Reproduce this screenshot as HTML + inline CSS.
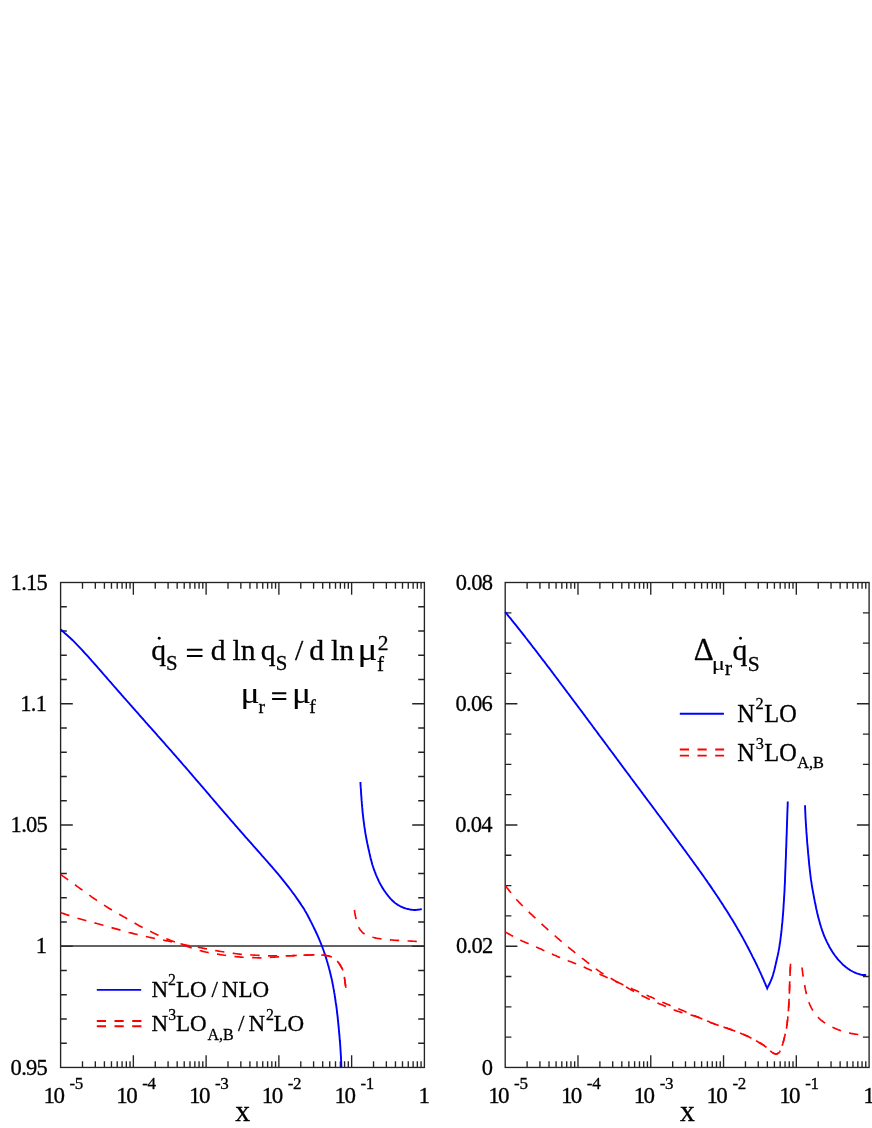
<!DOCTYPE html>
<html><head><meta charset="utf-8"><title>chart</title>
<style>html,body{margin:0;padding:0;background:#fff}body{width:872px;height:1128px;overflow:hidden;font-family:"Liberation Serif",serif}text{stroke:#000;stroke-width:0.3px;stroke-linejoin:round}</style></head>
<body>
<svg width="872" height="1128" viewBox="0 0 872 1128" font-family='"Liberation Serif", serif' fill="#000"  style="display:block;will-change:transform">
<rect width="872" height="1128" fill="#fff"/>
<path d="M82.50 1067.45V1061.25M82.50 582.50V588.70M95.32 1067.45V1061.25M95.32 582.50V588.70M104.41 1067.45V1061.25M104.41 582.50V588.70M111.46 1067.45V1061.25M111.46 582.50V588.70M117.22 1067.45V1061.25M117.22 582.50V588.70M122.09 1067.45V1061.25M122.09 582.50V588.70M126.31 1067.45V1061.25M126.31 582.50V588.70M130.03 1067.45V1061.25M130.03 582.50V588.70M133.36 1067.45V1055.25M133.36 582.50V594.70M155.26 1067.45V1061.25M155.26 582.50V588.70M168.08 1067.45V1061.25M168.08 582.50V588.70M177.17 1067.45V1061.25M177.17 582.50V588.70M184.22 1067.45V1061.25M184.22 582.50V588.70M189.98 1067.45V1061.25M189.98 582.50V588.70M194.85 1067.45V1061.25M194.85 582.50V588.70M199.07 1067.45V1061.25M199.07 582.50V588.70M202.79 1067.45V1061.25M202.79 582.50V588.70M206.12 1067.45V1055.25M206.12 582.50V594.70M228.02 1067.45V1061.25M228.02 582.50V588.70M240.84 1067.45V1061.25M240.84 582.50V588.70M249.93 1067.45V1061.25M249.93 582.50V588.70M256.98 1067.45V1061.25M256.98 582.50V588.70M262.74 1067.45V1061.25M262.74 582.50V588.70M267.61 1067.45V1061.25M267.61 582.50V588.70M271.83 1067.45V1061.25M271.83 582.50V588.70M275.55 1067.45V1061.25M275.55 582.50V588.70M278.88 1067.45V1055.25M278.88 582.50V594.70M300.78 1067.45V1061.25M300.78 582.50V588.70M313.60 1067.45V1061.25M313.60 582.50V588.70M322.69 1067.45V1061.25M322.69 582.50V588.70M329.74 1067.45V1061.25M329.74 582.50V588.70M335.50 1067.45V1061.25M335.50 582.50V588.70M340.37 1067.45V1061.25M340.37 582.50V588.70M344.59 1067.45V1061.25M344.59 582.50V588.70M348.31 1067.45V1061.25M348.31 582.50V588.70M351.64 1067.45V1055.25M351.64 582.50V594.70M373.54 1067.45V1061.25M373.54 582.50V588.70M386.36 1067.45V1061.25M386.36 582.50V588.70M395.45 1067.45V1061.25M395.45 582.50V588.70M402.50 1067.45V1061.25M402.50 582.50V588.70M408.26 1067.45V1061.25M408.26 582.50V588.70M413.13 1067.45V1061.25M413.13 582.50V588.70M417.35 1067.45V1061.25M417.35 582.50V588.70M421.07 1067.45V1061.25M421.07 582.50V588.70M60.60 703.74H72.80M424.40 703.74H412.20M60.60 824.98H72.80M424.40 824.98H412.20M60.60 946.21H72.80M424.40 946.21H412.20M60.60 606.75H66.80M424.40 606.75H418.20M60.60 631.00H66.80M424.40 631.00H418.20M60.60 655.24H66.80M424.40 655.24H418.20M60.60 679.49H66.80M424.40 679.49H418.20M60.60 727.99H66.80M424.40 727.99H418.20M60.60 752.23H66.80M424.40 752.23H418.20M60.60 776.48H66.80M424.40 776.48H418.20M60.60 800.73H66.80M424.40 800.73H418.20M60.60 849.22H66.80M424.40 849.22H418.20M60.60 873.47H66.80M424.40 873.47H418.20M60.60 897.72H66.80M424.40 897.72H418.20M60.60 921.97H66.80M424.40 921.97H418.20M60.60 970.46H66.80M424.40 970.46H418.20M60.60 994.71H66.80M424.40 994.71H418.20M60.60 1018.96H66.80M424.40 1018.96H418.20M60.60 1043.20H66.80M424.40 1043.20H418.20" fill="none" stroke="#242424" stroke-width="1.35"/>
<rect x="60.60" y="582.50" width="363.80" height="484.95" fill="none" stroke="#242424" stroke-width="1.35"/>
<path d="M527.11 1067.45V1061.25M527.11 582.50V588.70M539.92 1067.45V1061.25M539.92 582.50V588.70M549.02 1067.45V1061.25M549.02 582.50V588.70M556.07 1067.45V1061.25M556.07 582.50V588.70M561.83 1067.45V1061.25M561.83 582.50V588.70M566.71 1067.45V1061.25M566.71 582.50V588.70M570.93 1067.45V1061.25M570.93 582.50V588.70M574.65 1067.45V1061.25M574.65 582.50V588.70M577.98 1067.45V1055.25M577.98 582.50V594.70M599.89 1067.45V1061.25M599.89 582.50V588.70M612.70 1067.45V1061.25M612.70 582.50V588.70M621.80 1067.45V1061.25M621.80 582.50V588.70M628.85 1067.45V1061.25M628.85 582.50V588.70M634.61 1067.45V1061.25M634.61 582.50V588.70M639.49 1067.45V1061.25M639.49 582.50V588.70M643.71 1067.45V1061.25M643.71 582.50V588.70M647.43 1067.45V1061.25M647.43 582.50V588.70M650.76 1067.45V1055.25M650.76 582.50V594.70M672.67 1067.45V1061.25M672.67 582.50V588.70M685.48 1067.45V1061.25M685.48 582.50V588.70M694.58 1067.45V1061.25M694.58 582.50V588.70M701.63 1067.45V1061.25M701.63 582.50V588.70M707.39 1067.45V1061.25M707.39 582.50V588.70M712.27 1067.45V1061.25M712.27 582.50V588.70M716.49 1067.45V1061.25M716.49 582.50V588.70M720.21 1067.45V1061.25M720.21 582.50V588.70M723.54 1067.45V1055.25M723.54 582.50V594.70M745.45 1067.45V1061.25M745.45 582.50V588.70M758.26 1067.45V1061.25M758.26 582.50V588.70M767.36 1067.45V1061.25M767.36 582.50V588.70M774.41 1067.45V1061.25M774.41 582.50V588.70M780.17 1067.45V1061.25M780.17 582.50V588.70M785.05 1067.45V1061.25M785.05 582.50V588.70M789.27 1067.45V1061.25M789.27 582.50V588.70M792.99 1067.45V1061.25M792.99 582.50V588.70M796.32 1067.45V1055.25M796.32 582.50V594.70M818.23 1067.45V1061.25M818.23 582.50V588.70M831.04 1067.45V1061.25M831.04 582.50V588.70M840.14 1067.45V1061.25M840.14 582.50V588.70M847.19 1067.45V1061.25M847.19 582.50V588.70M852.95 1067.45V1061.25M852.95 582.50V588.70M857.83 1067.45V1061.25M857.83 582.50V588.70M862.05 1067.45V1061.25M862.05 582.50V588.70M865.77 1067.45V1061.25M865.77 582.50V588.70M505.20 703.74H517.40M869.10 703.74H856.90M505.20 824.98H517.40M869.10 824.98H856.90M505.20 946.21H517.40M869.10 946.21H856.90M505.20 612.81H511.40M869.10 612.81H862.90M505.20 643.12H511.40M869.10 643.12H862.90M505.20 673.43H511.40M869.10 673.43H862.90M505.20 734.05H511.40M869.10 734.05H862.90M505.20 764.36H511.40M869.10 764.36H862.90M505.20 794.67H511.40M869.10 794.67H862.90M505.20 855.28H511.40M869.10 855.28H862.90M505.20 885.59H511.40M869.10 885.59H862.90M505.20 915.90H511.40M869.10 915.90H862.90M505.20 976.52H511.40M869.10 976.52H862.90M505.20 1006.83H511.40M869.10 1006.83H862.90M505.20 1037.14H511.40M869.10 1037.14H862.90" fill="none" stroke="#242424" stroke-width="1.35"/>
<rect x="505.20" y="582.50" width="363.90" height="484.95" fill="none" stroke="#242424" stroke-width="1.35"/>
<path d="M60.60 945.95H424.40" stroke="#303030" stroke-width="1.35" fill="none"/>
<defs><clipPath id="c1"><rect x="60.60" y="582.50" width="363.80" height="484.95"/></clipPath><clipPath id="c2"><rect x="505.20" y="582.50" width="363.90" height="484.95"/></clipPath></defs>
<path d="M60.6 629.4L61.3 630.0L62.2 630.8L63.3 631.8L64.5 632.9L65.8 634.0L67.2 635.2L68.6 636.5L70.0 637.8L71.3 639.0L72.6 640.2L73.8 641.4L75.0 642.6L76.2 643.8L77.4 645.1L78.6 646.3L79.8 647.6L81.0 648.9L82.2 650.2L83.4 651.5L84.6 652.8L85.8 654.1L87.0 655.4L88.2 656.7L89.4 658.1L90.6 659.4L91.8 660.8L93.0 662.1L94.2 663.5L95.4 664.8L96.6 666.2L97.8 667.6L99.0 668.9L100.2 670.3L101.4 671.7L102.6 673.1L103.8 674.5L105.0 675.9L106.2 677.2L107.4 678.6L108.6 680.0L109.8 681.4L111.0 682.7L112.2 684.1L113.4 685.5L114.6 686.9L115.8 688.2L117.0 689.6L118.2 691.0L119.4 692.3L120.6 693.7L121.8 695.1L123.0 696.4L124.2 697.8L125.4 699.1L126.6 700.5L127.8 701.9L129.0 703.2L130.2 704.6L131.4 705.9L132.6 707.3L133.8 708.7L135.0 710.0L136.2 711.4L137.4 712.7L138.6 714.1L139.8 715.5L141.0 716.8L142.2 718.2L143.4 719.5L144.6 720.9L145.8 722.3L147.0 723.6L148.2 725.0L149.4 726.3L150.6 727.6L151.8 729.0L153.0 730.3L154.2 731.7L155.4 733.0L156.6 734.4L157.8 735.8L159.0 737.1L160.2 738.5L161.4 739.8L162.6 741.2L163.8 742.5L165.0 743.9L166.2 745.3L167.4 746.6L168.6 748.0L169.8 749.4L171.0 750.7L172.2 752.1L173.4 753.5L174.6 754.8L175.8 756.2L177.0 757.6L178.2 758.9L179.4 760.3L180.6 761.7L181.8 763.1L183.0 764.5L184.2 765.9L185.4 767.2L186.6 768.6L187.8 770.0L189.0 771.4L190.2 772.8L191.4 774.2L192.6 775.6L193.8 777.0L195.0 778.4L196.2 779.8L197.4 781.2L198.6 782.5L199.8 783.9L201.0 785.3L202.2 786.7L203.4 788.1L204.6 789.5L205.8 790.9L207.0 792.3L208.2 793.7L209.4 795.1L210.6 796.6L211.8 798.0L213.0 799.4L214.2 800.8L215.4 802.2L216.6 803.6L217.8 805.0L219.0 806.4L220.2 807.8L221.4 809.2L222.6 810.6L223.8 812.0L225.0 813.3L226.2 814.7L227.4 816.1L228.6 817.5L229.8 818.9L231.0 820.3L232.2 821.7L233.4 823.0L234.6 824.4L235.8 825.8L237.0 827.2L238.2 828.6L239.4 829.9L240.6 831.3L241.8 832.7L243.0 834.0L244.2 835.4L245.4 836.8L246.6 838.1L247.8 839.5L249.0 840.8L250.2 842.2L251.4 843.5L252.6 844.9L253.8 846.3L255.0 847.6L256.2 849.0L257.4 850.3L258.6 851.7L259.8 853.0L261.0 854.4L262.2 855.8L263.4 857.1L264.6 858.5L265.8 859.9L267.0 861.2L268.2 862.6L269.4 864.0L270.6 865.3L271.8 866.7L273.0 868.1L274.2 869.5L275.4 870.9L276.6 872.3L277.8 873.7L279.0 875.2L280.2 876.6L281.4 878.1L282.6 879.6L283.8 881.1L285.0 882.6L286.2 884.1L287.4 885.6L288.6 887.1L289.8 888.7L291.0 890.3L292.2 892.0L293.5 893.7L294.7 895.3L295.9 897.0L297.0 898.6L298.1 900.1L299.1 901.6L300.0 902.9L300.8 904.1L301.5 905.2L302.2 906.2L302.8 907.1L303.4 908.0L303.9 908.8L304.4 909.6L304.8 910.4L305.3 911.3L305.8 912.1L306.3 912.9L306.7 913.7L307.2 914.5L307.6 915.3L308.0 916.0L308.3 916.8L308.7 917.5L309.1 918.3L309.6 919.1L310.0 920.0L310.5 920.9L311.0 921.9L311.5 922.8L312.0 923.8L312.5 924.9L313.0 925.9L313.5 926.9L314.0 928.0L314.5 929.0L315.0 930.0L315.5 931.0L315.9 932.0L316.4 933.0L316.9 934.0L317.3 935.0L317.8 936.0L318.2 937.0L318.6 938.0L319.1 939.0L319.5 940.0L319.9 941.0L320.3 942.0L320.7 943.0L321.1 944.0L321.5 945.0L321.9 946.0L322.3 947.0L322.7 948.0L323.0 949.0L323.4 950.0L323.8 951.0L324.1 952.0L324.4 952.9L324.8 953.9L325.1 954.9L325.4 955.9L325.7 956.9L326.0 957.9L326.4 958.9L326.7 960.0L327.0 961.1L327.4 962.3L327.7 963.4L328.0 964.6L328.4 965.8L328.7 967.0L329.0 968.3L329.4 969.5L329.7 970.8L330.0 972.0L330.3 973.3L330.6 974.5L330.9 975.8L331.2 977.0L331.5 978.3L331.8 979.6L332.1 980.9L332.4 982.3L332.6 983.6L332.9 985.0L333.2 986.4L333.4 987.9L333.7 989.4L334.0 990.9L334.2 992.4L334.5 993.9L334.7 995.4L334.9 997.0L335.2 998.5L335.4 1000.0L335.6 1001.5L335.8 1003.0L336.1 1004.5L336.3 1006.0L336.5 1007.5L336.7 1009.0L336.9 1010.5L337.0 1012.0L337.2 1013.5L337.4 1015.0L337.6 1016.5L337.7 1018.0L337.9 1019.5L338.0 1021.0L338.2 1022.5L338.3 1024.0L338.5 1025.5L338.6 1027.0L338.8 1028.5L338.9 1030.0L339.0 1031.5L339.2 1033.0L339.3 1034.5L339.5 1036.0L339.6 1037.5L339.7 1039.0L339.8 1040.5L340.0 1042.0L340.1 1043.5L340.2 1045.0L340.3 1046.5L340.4 1048.1L340.5 1049.7L340.6 1051.3L340.7 1052.9L340.8 1054.5L340.9 1056.0L341.0 1057.4L341.0 1058.8L341.1 1060.0L341.2 1061.1L341.2 1062.2L341.2 1063.2L341.3 1064.1L341.3 1064.9L341.3 1065.7L341.4 1066.4L341.4 1067.0L341.4 1067.6L341.4 1068.0" fill="none" stroke="#0000ff" stroke-width="1.90" stroke-linejoin="round" clip-path="url(#c1)"/>
<path d="M360.4 782.0L360.5 783.0L360.5 784.3L360.6 785.8L360.7 787.4L360.9 789.2L361.0 791.2L361.1 793.1L361.2 795.0L361.4 796.9L361.5 798.7L361.6 800.4L361.8 802.2L361.9 803.9L362.1 805.7L362.2 807.4L362.4 809.2L362.5 811.0L362.7 812.8L362.9 814.5L363.1 816.3L363.3 818.1L363.5 819.8L363.7 821.6L364.0 823.4L364.2 825.2L364.4 826.9L364.7 828.7L365.0 830.4L365.2 832.1L365.5 833.8L365.8 835.5L366.1 837.1L366.4 838.7L366.7 840.3L367.0 841.8L367.3 843.4L367.7 845.0L368.0 846.5L368.3 848.1L368.7 849.7L369.1 851.3L369.4 852.9L369.8 854.5L370.2 856.2L370.5 857.8L370.9 859.4L371.4 861.0L371.8 862.6L372.2 864.2L372.7 865.7L373.2 867.2L373.7 868.7L374.2 870.2L374.8 871.7L375.4 873.1L375.9 874.6L376.5 876.0L377.1 877.4L377.7 878.7L378.3 880.0L378.9 881.3L379.5 882.5L380.1 883.6L380.7 884.8L381.4 885.9L382.0 887.0L382.6 888.1L383.3 889.1L384.0 890.2L384.7 891.2L385.4 892.2L386.2 893.3L387.0 894.3L387.7 895.3L388.6 896.4L389.4 897.3L390.2 898.3L391.0 899.2L391.8 900.0L392.6 900.8L393.4 901.5L394.2 902.2L395.0 902.9L395.8 903.5L396.6 904.0L397.4 904.6L398.2 905.1L399.0 905.5L399.8 906.0L400.6 906.4L401.4 906.8L402.2 907.2L403.1 907.5L403.9 907.8L404.7 908.1L405.5 908.4L406.3 908.6L407.1 908.8L407.9 909.0L408.6 909.2L409.3 909.4L410.0 909.5L410.6 909.6L411.3 909.7L411.9 909.8L412.5 909.9L413.1 909.9L413.7 910.0L414.4 910.0L415.0 910.0L415.7 910.0L416.4 909.9L417.2 909.8L418.0 909.7L418.8 909.6L419.6 909.5L420.2 909.4L420.9 909.2L421.4 909.2L421.8 909.1" fill="none" stroke="#0000ff" stroke-width="1.90" stroke-linejoin="round"/>
<path d="M60.6 874.4L61.6 875.1L62.9 876.1L64.4 877.2L66.2 878.4L68.0 879.8L70.0 881.2L71.9 882.6L73.9 884.0L75.8 885.3L77.5 886.6L79.2 887.8L80.8 889.0L82.5 890.2L84.1 891.4L85.8 892.6L87.4 893.8L89.1 895.0L90.7 896.2L92.3 897.4L94.0 898.5L95.7 899.6L97.3 900.7L99.0 901.8L100.6 902.9L102.3 904.0L104.0 905.1L105.6 906.1L107.3 907.2L108.9 908.2L110.6 909.2L112.3 910.2L113.9 911.2L115.6 912.2L117.3 913.1L119.0 914.1L120.6 915.0L122.3 916.0L123.9 916.9L125.5 917.8L127.1 918.7L128.6 919.6L130.1 920.4L131.6 921.3L133.0 922.1L134.4 922.9L135.8 923.7L137.2 924.6L138.7 925.4L140.2 926.2L141.7 927.0L143.3 927.8L144.9 928.7L146.6 929.5L148.3 930.4L150.0 931.2L151.7 932.1L153.4 932.9L155.1 933.7L156.7 934.5L158.3 935.2L159.8 935.9L161.4 936.6L162.9 937.2L164.4 937.9L165.8 938.5L167.3 939.1L168.7 939.6L170.1 940.2L171.5 940.8L172.9 941.3L174.3 941.8L175.6 942.3L176.9 942.8L178.2 943.2L179.5 943.7L180.8 944.1L182.1 944.6L183.4 945.0L184.7 945.4L186.0 945.9L187.4 946.4L188.8 946.9L190.2 947.4L191.7 947.9L193.1 948.3L194.6 948.8L196.0 949.3L197.3 949.7L198.6 950.1L199.8 950.5L200.9 950.8L201.9 951.1L202.9 951.4L203.8 951.6L204.7 951.8L205.6 952.0L206.4 952.2L207.3 952.3L208.1 952.5L209.0 952.7L209.9 952.9L210.7 953.0L211.6 953.2L212.5 953.3L213.3 953.4L214.1 953.6L215.0 953.7L215.9 953.8L216.7 954.0L217.6 954.1L218.5 954.2L219.4 954.4L220.3 954.6L221.3 954.7L222.2 954.9L223.1 955.0L224.1 955.2L225.0 955.3L225.9 955.5L226.8 955.6L227.7 955.7L228.6 955.8L229.4 955.9L230.3 956.1L231.1 956.2L232.0 956.2L232.8 956.3L233.7 956.4L234.5 956.5L235.4 956.6L236.3 956.7L237.1 956.8L238.0 956.8L238.8 956.9L239.7 957.0L240.5 957.1L241.4 957.1L242.2 957.2L243.1 957.2L244.0 957.3L244.9 957.3L245.8 957.4L246.7 957.4L247.6 957.5L248.5 957.5L249.5 957.5L250.4 957.5L251.3 957.6L252.2 957.6L253.1 957.6L254.0 957.6L254.8 957.7L255.6 957.7L256.4 957.7L257.2 957.8L258.0 957.8L258.8 957.8L259.7 957.8L260.7 957.8L261.7 957.8L262.8 957.8L263.9 957.7L265.1 957.7L266.3 957.6L267.6 957.6L268.9 957.5L270.2 957.4L271.6 957.3L273.0 957.2L274.5 957.1L276.0 957.0L277.6 956.9L279.2 956.7L280.9 956.6L282.6 956.4L284.4 956.2L286.2 956.1L287.9 955.9L289.7 955.8L291.5 955.7L293.3 955.6L295.2 955.5L297.1 955.4L299.1 955.3L301.1 955.3L303.0 955.2L304.9 955.1L306.7 955.1L308.4 955.0L310.0 955.0L311.5 955.0L312.9 954.9L314.3 954.9L315.6 954.9L316.9 954.9L318.1 954.9L319.2 954.9L320.3 954.9L321.3 955.0L322.2 955.0L323.0 955.1L323.8 955.1L324.4 955.2L325.0 955.3L325.6 955.3L326.1 955.4L326.5 955.6L327.0 955.7L327.5 955.8L328.0 955.9L328.5 956.0L329.0 956.2L329.5 956.3L330.0 956.4L330.5 956.6L331.0 956.8L331.4 956.9L331.9 957.1L332.3 957.3L332.7 957.5L333.1 957.7L333.5 957.9L333.8 958.2L334.1 958.4L334.5 958.7L334.8 958.9L335.1 959.2L335.4 959.5L335.7 959.7L336.0 960.0L336.3 960.3L336.6 960.6L336.9 960.8L337.2 961.1L337.5 961.4L337.7 961.7L338.0 962.0L338.3 962.3L338.5 962.7L338.8 963.0L339.1 963.4L339.3 963.7L339.6 964.1L339.8 964.5L340.1 964.9L340.3 965.3L340.6 965.7L340.8 966.2L341.1 966.6L341.3 967.0L341.5 967.4L341.8 967.8L342.0 968.2L342.2 968.6L342.4 969.0L342.6 969.5L342.8 969.9L343.0 970.4L343.2 970.9L343.4 971.5L343.6 972.1L343.7 972.8L343.8 973.6L344.0 974.3L344.1 975.1L344.2 975.9L344.3 976.7L344.4 977.4L344.5 978.1L344.6 978.8L344.7 979.4L344.8 980.0L344.8 980.5L344.9 981.1L345.0 981.6L345.0 982.0L345.1 982.5L345.2 983.0L345.2 983.5L345.3 984.0L345.4 984.5L345.5 985.1L345.5 985.6L345.6 986.2L345.7 986.7L345.8 987.2L345.8 987.7L345.9 988.2L346.0 988.5L346.0 988.8" fill="none" stroke="#ff0000" stroke-width="1.65" stroke-linejoin="round" stroke-dasharray="9.308 8.407"/>
<path d="M60.6 912.6L61.6 912.9L62.9 913.4L64.4 913.9L66.1 914.5L67.9 915.1L69.8 915.8L71.8 916.5L73.8 917.1L75.7 917.7L77.5 918.3L79.3 918.8L81.1 919.3L82.9 919.8L84.8 920.3L86.6 920.8L88.5 921.3L90.3 921.8L92.2 922.3L94.1 922.8L95.9 923.3L97.7 923.8L99.6 924.3L101.4 924.8L103.2 925.3L105.1 925.8L106.9 926.4L108.7 926.9L110.5 927.4L112.4 927.9L114.2 928.4L116.0 928.9L117.9 929.4L119.7 929.9L121.6 930.4L123.4 931.0L125.2 931.5L127.1 932.0L128.9 932.5L130.8 932.9L132.6 933.4L134.4 933.9L136.3 934.3L138.1 934.7L139.9 935.2L141.8 935.6L143.6 936.0L145.4 936.4L147.2 936.8L149.1 937.2L150.9 937.6L152.7 938.0L154.6 938.4L156.5 938.7L158.3 939.1L160.2 939.5L162.1 939.8L163.9 940.2L165.7 940.6L167.5 940.9L169.3 941.3L171.1 941.7L172.8 942.1L174.6 942.5L176.3 942.9L178.0 943.2L179.7 943.6L181.4 944.0L183.0 944.4L184.5 944.7L186.0 945.0L187.4 945.3L188.8 945.5L190.1 945.8L191.3 946.0L192.6 946.2L193.7 946.4L194.9 946.6L196.0 946.8L197.1 947.0L198.1 947.2L199.1 947.4L200.0 947.6L200.9 947.7L201.8 947.9L202.6 948.1L203.4 948.2L204.2 948.4L205.0 948.6L205.8 948.7L206.7 948.9L207.6 949.1L208.5 949.2L209.4 949.4L210.3 949.6L211.3 949.8L212.2 949.9L213.1 950.1L214.1 950.3L215.0 950.4L215.9 950.6L216.8 950.8L217.7 950.9L218.7 951.1L219.6 951.2L220.5 951.4L221.4 951.5L222.3 951.7L223.2 951.8L224.1 952.0L225.0 952.1L225.8 952.2L226.7 952.4L227.5 952.5L228.3 952.6L229.0 952.7L229.8 952.8L230.6 953.0L231.4 953.1L232.3 953.2L233.1 953.3L234.0 953.4L234.9 953.5L235.8 953.7L236.7 953.8L237.6 953.9L238.5 954.0L239.5 954.1L240.4 954.2L241.3 954.3L242.2 954.4L243.1 954.5L244.0 954.5L244.8 954.6L245.7 954.6L246.5 954.7L247.4 954.7L248.2 954.8L249.1 954.8L249.9 954.9L250.8 954.9L251.6 955.0L252.4 955.0L253.2 955.0L254.0 955.1L254.7 955.1L255.5 955.2L256.4 955.2L257.3 955.3L258.3 955.4L259.4 955.4L260.6 955.5L261.9 955.5L263.2 955.6L264.7 955.6L266.1 955.7L267.7 955.8L269.2 955.8L270.8 955.8L272.4 955.9L274.0 955.9L275.6 955.9L277.3 955.9L279.0 955.9L280.7 955.9L282.5 955.9L284.3 955.8L286.1 955.8L287.9 955.8L289.7 955.7L291.5 955.7L293.3 955.6L295.2 955.6L297.2 955.5L299.1 955.4L300.0 955.4" fill="none" stroke="#ff0000" stroke-width="1.65" stroke-linejoin="round" stroke-dasharray="9.306 8.405"/>
<path d="M300.0 955.3L301.1 955.3L303.0 955.2L304.9 955.1L306.7 955.1L308.4 955.0L310.0 955.0L311.5 955.0L312.9 954.9L314.3 954.9L315.6 954.9L316.9 954.9L318.1 954.9L319.2 954.9L320.3 954.9L321.3 955.0L322.2 955.0L323.0 955.1L323.8 955.1L324.4 955.2L325.0 955.3L325.6 955.3L326.1 955.4L326.5 955.6L327.0 955.7L327.5 955.8L328.0 955.9L328.5 956.0L329.0 956.2L329.5 956.3L330.0 956.4L330.5 956.6L331.0 956.8L331.4 956.9L331.9 957.1L332.3 957.3L332.7 957.5L333.1 957.7L333.5 957.9L333.8 958.2L334.1 958.4L334.5 958.7L334.8 958.9L335.1 959.2L335.4 959.5L335.7 959.7L336.0 960.0L336.3 960.3L336.6 960.6L336.9 960.8L337.2 961.1L337.5 961.4L337.7 961.7L338.0 962.0L338.3 962.3L338.5 962.7L338.8 963.0L339.1 963.4L339.3 963.7L339.6 964.1L339.8 964.5L340.1 964.9L340.3 965.3L340.6 965.7L340.8 966.2L341.1 966.6L341.3 967.0L341.5 967.4L341.8 967.8L342.0 968.2L342.2 968.6L342.4 969.0L342.6 969.5L342.8 969.9L343.0 970.4L343.2 970.9L343.4 971.5L343.6 972.1L343.7 972.8L343.8 973.6L344.0 974.3L344.1 975.1L344.2 975.9L344.3 976.7L344.4 977.4L344.5 978.1L344.6 978.8L344.7 979.4L344.8 980.0L344.8 980.5L344.9 981.1L345.0 981.6L345.0 982.0L345.1 982.5L345.2 983.0L345.2 983.5L345.3 984.0L345.4 984.5L345.5 985.1L345.5 985.6L345.6 986.2L345.7 986.7L345.8 987.2L345.8 987.7L345.9 988.2L346.0 988.5L346.0 988.8" fill="none" stroke="#ff0000" stroke-width="1.65" stroke-linejoin="round" stroke-dasharray="9.308 8.407" stroke-dashoffset="14.227"/>
<path d="M354.4 910.0L354.5 910.5L354.6 911.1L354.7 911.9L354.8 912.7L355.0 913.6L355.1 914.5L355.3 915.5L355.5 916.4L355.7 917.4L355.9 918.3L356.1 919.2L356.4 920.2L356.7 921.2L357.0 922.2L357.3 923.2L357.7 924.2L358.0 925.1L358.3 926.0L358.6 926.8L358.9 927.5L359.2 928.1L359.4 928.6L359.7 929.0L359.9 929.4L360.1 929.8L360.4 930.1L360.6 930.3L360.9 930.6L361.1 930.9L361.4 931.2L361.7 931.5L361.9 931.8L362.1 932.0L362.3 932.3L362.5 932.5L362.8 932.7L363.1 933.0L363.4 933.2L363.9 933.5L364.4 933.8L365.0 934.1L365.8 934.5L366.6 934.8L367.4 935.2L368.3 935.6L369.3 936.0L370.2 936.4L371.1 936.7L372.0 937.0L372.9 937.3L373.7 937.5L374.5 937.7L375.3 937.9L376.1 938.1L376.8 938.2L377.6 938.4L378.4 938.5L379.3 938.6L380.2 938.8L381.2 938.9L382.3 939.0L383.4 939.2L384.6 939.3L385.8 939.4L387.1 939.6L388.3 939.7L389.6 939.8L390.8 939.9L392.0 940.0L393.2 940.1L394.3 940.2L395.4 940.3L396.4 940.3L397.4 940.4L398.4 940.4L399.4 940.5L400.4 940.5L401.5 940.6L402.6 940.6L403.8 940.7L405.1 940.8L406.5 940.9L408.1 941.0L409.7 941.0L411.3 941.1L412.8 941.2L414.2 941.3L415.5 941.4L416.6 941.5L417.4 941.5" fill="none" stroke="#ff0000" stroke-width="1.65" stroke-linejoin="round" stroke-dasharray="9.30 8.40"/>
<path d="M505.2 611.9L505.9 612.8L506.8 613.9L507.9 615.3L509.1 616.8L510.5 618.4L511.8 620.1L513.2 621.8L514.6 623.6L515.9 625.2L517.2 626.8L518.4 628.3L519.6 629.8L520.8 631.4L522.0 632.9L523.2 634.4L524.4 635.9L525.6 637.5L526.8 639.0L528.0 640.6L529.2 642.1L530.4 643.6L531.6 645.2L532.8 646.8L534.0 648.3L535.2 649.9L536.4 651.4L537.6 653.0L538.8 654.6L540.0 656.1L541.2 657.7L542.4 659.3L543.6 660.8L544.8 662.4L546.0 664.0L547.2 665.6L548.4 667.2L549.6 668.7L550.8 670.3L552.0 671.9L553.2 673.5L554.4 675.1L555.6 676.7L556.8 678.3L558.0 679.9L559.2 681.5L560.4 683.1L561.6 684.7L562.8 686.3L564.0 687.9L565.2 689.5L566.4 691.1L567.6 692.7L568.8 694.3L570.0 695.9L571.2 697.5L572.4 699.1L573.6 700.7L574.8 702.3L576.0 703.9L577.2 705.5L578.4 707.1L579.6 708.7L580.8 710.3L582.0 711.9L583.2 713.5L584.4 715.1L585.6 716.8L586.8 718.4L588.0 720.0L589.2 721.6L590.4 723.2L591.6 724.8L592.8 726.5L594.0 728.1L595.2 729.7L596.4 731.3L597.6 732.9L598.8 734.6L600.0 736.2L601.2 737.8L602.4 739.4L603.6 741.0L604.8 742.6L606.0 744.2L607.2 745.8L608.4 747.5L609.6 749.1L610.8 750.7L612.0 752.3L613.2 753.9L614.4 755.5L615.6 757.1L616.8 758.8L618.0 760.4L619.2 762.0L620.4 763.6L621.6 765.2L622.8 766.9L624.0 768.5L625.2 770.1L626.4 771.7L627.6 773.3L628.8 774.9L630.0 776.5L631.2 778.2L632.4 779.8L633.6 781.4L634.8 783.0L636.0 784.6L637.2 786.2L638.4 787.8L639.6 789.4L640.8 791.0L642.0 792.6L643.2 794.3L644.4 795.9L645.6 797.5L646.8 799.1L648.0 800.7L649.2 802.3L650.4 803.9L651.6 805.5L652.8 807.1L654.0 808.7L655.2 810.3L656.4 812.0L657.6 813.6L658.8 815.2L660.0 816.8L661.2 818.4L662.4 820.0L663.6 821.6L664.8 823.2L666.0 824.9L667.2 826.5L668.4 828.1L669.6 829.7L670.8 831.4L672.0 833.0L673.2 834.6L674.4 836.2L675.6 837.9L676.8 839.5L678.0 841.1L679.2 842.7L680.4 844.4L681.6 846.0L682.8 847.6L684.0 849.3L685.2 850.9L686.4 852.5L687.6 854.2L688.8 855.8L690.0 857.5L691.2 859.1L692.4 860.8L693.6 862.4L694.8 864.1L696.0 865.7L697.2 867.4L698.4 869.1L699.6 870.8L700.8 872.4L702.0 874.1L703.2 875.8L704.4 877.5L705.6 879.2L706.8 880.9L708.0 882.7L709.2 884.4L710.4 886.1L711.6 887.9L712.8 889.7L714.0 891.4L715.2 893.2L716.4 895.0L717.6 896.8L718.8 898.6L720.0 900.5L721.2 902.3L722.4 904.1L723.6 906.0L724.8 907.9L726.0 909.7L727.2 911.6L728.4 913.5L729.6 915.4L730.8 917.4L732.0 919.3L733.2 921.3L734.4 923.3L735.6 925.3L736.8 927.4L738.0 929.4L739.2 931.5L740.4 933.6L741.6 935.7L742.8 937.9L744.0 940.1L745.2 942.3L746.4 944.6L747.7 947.0L749.0 949.5L750.3 952.1L751.6 954.6L752.8 957.1L754.1 959.5L755.2 961.8L756.3 964.0L757.2 965.9L758.0 967.6L758.8 969.2L759.4 970.6L760.0 971.9L760.6 973.1L761.1 974.3L761.6 975.3L762.0 976.4L762.5 977.5L763.0 978.6L763.5 979.7L764.0 980.9L764.5 982.1L765.0 983.2L765.5 984.3L765.9 985.3L766.3 986.3L766.7 987.1L767.0 987.8L767.2 988.4L767.5 987.7L767.9 986.8L768.4 985.8L769.0 984.7L769.6 983.5L770.2 982.1L770.9 980.7L771.5 979.2L772.1 977.7L772.6 976.2L773.1 974.6L773.6 972.8L774.1 971.0L774.6 969.0L775.1 967.1L775.5 965.1L776.0 963.1L776.4 961.2L776.8 959.3L777.2 957.6L777.6 956.0L777.9 954.5L778.2 953.1L778.5 951.7L778.7 950.4L779.0 949.0L779.2 947.6L779.5 946.1L779.7 944.5L780.0 942.7L780.3 940.8L780.5 938.8L780.8 936.6L781.1 934.5L781.3 932.2L781.6 929.9L781.8 927.5L782.0 925.1L782.3 922.7L782.5 920.3L782.7 917.9L782.9 915.4L783.1 912.9L783.3 910.3L783.5 907.8L783.6 905.1L783.8 902.5L784.0 899.8L784.1 897.1L784.3 894.3L784.5 891.5L784.6 888.7L784.7 885.9L784.9 883.0L785.0 880.1L785.1 877.1L785.2 874.1L785.3 871.0L785.5 867.8L785.6 864.5L785.7 861.0L785.9 857.3L786.0 853.5L786.1 849.6L786.3 845.6L786.4 841.6L786.5 837.8L786.7 834.0L786.8 830.5L786.9 827.2L787.0 824.0L787.1 820.9L787.2 817.8L787.3 814.9L787.4 812.0L787.5 809.4L787.6 807.0L787.7 804.8L787.7 803.0L787.8 801.5" fill="none" stroke="#0000ff" stroke-width="1.90" stroke-linejoin="miter"/>
<path d="M805.0 805.3L805.1 806.6L805.1 808.2L805.2 810.2L805.3 812.4L805.4 814.7L805.5 817.2L805.7 819.8L805.8 822.3L806.0 824.8L806.1 827.2L806.3 829.5L806.4 831.9L806.6 834.2L806.8 836.6L807.0 839.0L807.1 841.5L807.3 843.9L807.6 846.4L807.8 848.9L808.0 851.4L808.2 853.9L808.5 856.6L808.7 859.2L809.0 861.9L809.2 864.6L809.5 867.2L809.8 869.9L810.1 872.5L810.4 875.0L810.7 877.5L811.0 879.9L811.4 882.2L811.7 884.6L812.1 886.8L812.5 889.1L812.9 891.3L813.3 893.4L813.7 895.6L814.1 897.8L814.5 899.9L814.9 902.0L815.4 904.2L815.8 906.3L816.2 908.4L816.7 910.4L817.1 912.5L817.6 914.5L818.1 916.5L818.6 918.4L819.1 920.3L819.6 922.1L820.1 923.9L820.6 925.6L821.1 927.3L821.7 929.0L822.2 930.6L822.8 932.2L823.4 933.9L824.0 935.5L824.7 937.1L825.4 938.7L826.2 940.4L827.0 942.1L827.8 943.7L828.7 945.3L829.5 947.0L830.4 948.5L831.3 950.1L832.2 951.5L833.1 952.9L834.0 954.2L834.9 955.5L835.8 956.7L836.8 957.9L837.7 959.1L838.6 960.2L839.6 961.2L840.5 962.2L841.5 963.2L842.4 964.1L843.3 965.0L844.3 965.8L845.2 966.6L846.1 967.3L847.1 968.0L848.0 968.7L848.9 969.3L849.8 969.9L850.8 970.5L851.7 971.0L852.6 971.5L853.6 972.0L854.6 972.5L855.6 972.9L856.6 973.3L857.6 973.6L858.5 973.9L859.4 974.2L860.2 974.5L861.0 974.7L861.7 974.9L862.4 975.0L863.0 975.0L863.6 975.0L864.2 975.0L864.7 975.0L865.2 975.0L865.6 974.9L865.9 974.9L866.2 974.9" fill="none" stroke="#0000ff" stroke-width="1.90" stroke-linejoin="round"/>
<path d="M505.2 885.6L506.0 886.5L506.9 887.7L508.0 889.1L509.3 890.7L510.7 892.4L512.1 894.2L513.6 896.0L515.1 897.8L516.5 899.5L517.9 901.0L519.2 902.4L520.6 903.8L521.9 905.2L523.2 906.5L524.6 907.9L526.0 909.2L527.4 910.6L528.8 911.9L530.2 913.3L531.7 914.7L533.2 916.1L534.8 917.6L536.4 919.1L538.0 920.6L539.6 922.1L541.3 923.7L542.9 925.2L544.5 926.7L546.2 928.1L547.8 929.6L549.4 931.0L551.0 932.4L552.5 933.8L554.1 935.1L555.7 936.5L557.2 937.9L558.8 939.2L560.4 940.6L562.1 942.0L563.8 943.4L565.5 944.9L567.3 946.3L569.1 947.8L571.0 949.3L572.9 950.9L574.7 952.4L576.6 953.9L578.5 955.4L580.4 956.8L582.2 958.3L584.0 959.7L585.9 961.2L587.7 962.6L589.6 964.1L591.5 965.5L593.3 966.9L595.1 968.3L596.9 969.6L598.7 970.9L600.5 972.1L602.2 973.3L604.0 974.4L605.7 975.4L607.4 976.4L609.1 977.4L610.7 978.3L612.4 979.3L614.0 980.2L615.6 981.1L617.2 982.0L618.7 982.9L620.2 983.8L621.7 984.6L623.2 985.4L624.6 986.2L626.0 987.0L627.5 987.8L628.9 988.6L630.3 989.4L631.8 990.2L633.3 991.0L634.7 991.8L636.2 992.6L637.7 993.4L639.1 994.2L640.6 994.9L642.1 995.7L643.6 996.5L645.2 997.2L646.7 998.0L648.3 998.8L649.9 999.5L651.5 1000.3L653.1 1001.0L654.8 1001.7L656.4 1002.5L658.1 1003.2L659.7 1003.9L661.4 1004.6L663.0 1005.3L664.6 1006.0L666.2 1006.7L667.9 1007.3L669.5 1008.0L671.1 1008.7L672.7 1009.3L674.3 1010.0L676.0 1010.6L677.7 1011.2L679.4 1011.8L681.2 1012.4L683.0 1012.9L684.8 1013.4L686.7 1013.9L688.5 1014.4L690.4 1014.9L692.3 1015.4L694.1 1015.9L695.9 1016.4L697.6 1017.0L699.3 1017.6L700.9 1018.2L702.5 1018.9L704.0 1019.6L705.6 1020.3L707.1 1021.0L708.7 1021.6L710.2 1022.3L711.8 1023.0L713.4 1023.6L715.0 1024.2L716.7 1024.8L718.4 1025.4L720.0 1025.9L721.7 1026.5L723.4 1027.0L725.1 1027.6L726.8 1028.1L728.4 1028.7L730.1 1029.3L731.8 1029.9L733.5 1030.6L735.3 1031.3L737.1 1032.0L738.8 1032.6L740.6 1033.3L742.2 1034.0L743.8 1034.6L745.2 1035.2L746.5 1035.8L747.6 1036.3L748.7 1036.8L749.6 1037.2L750.4 1037.7L751.1 1038.1L751.8 1038.4L752.5 1038.8L753.2 1039.2L753.9 1039.6L754.6 1040.0L755.4 1040.4L756.1 1040.8L756.9 1041.2L757.7 1041.6L758.4 1042.1L759.1 1042.5L759.9 1042.9L760.6 1043.3L761.2 1043.7L761.9 1044.1L762.5 1044.5L763.2 1044.9L763.8 1045.3L764.3 1045.8L764.9 1046.2L765.5 1046.6L766.0 1047.0L766.5 1047.4L767.0 1047.8L767.5 1048.2L768.0 1048.6L768.4 1049.0L768.8 1049.4L769.2 1049.7L769.5 1050.1L769.9 1050.5L770.3 1050.8L770.6 1051.2L771.0 1051.5L771.4 1051.8L771.8 1052.1L772.2 1052.4L772.7 1052.7L773.1 1052.9L773.6 1053.2L774.0 1053.4L774.4 1053.6L774.9 1053.8L775.2 1053.9L775.6 1054.0L775.9 1054.0L776.2 1054.0L776.5 1054.0L776.8 1053.9L777.1 1053.8L777.3 1053.7L777.5 1053.6L777.8 1053.5L778.0 1053.3L778.2 1053.2L778.4 1053.1L778.6 1053.0L778.7 1052.9L778.9 1052.8L779.0 1052.7L779.1 1052.6L779.3 1052.4L779.4 1052.2L779.6 1051.9L779.8 1051.5L780.0 1051.0L780.3 1050.5L780.6 1049.9L780.8 1049.2L781.1 1048.5L781.4 1047.7L781.7 1046.9L782.0 1046.1L782.3 1045.2L782.6 1044.4L782.9 1043.5L783.1 1042.6L783.4 1041.6L783.7 1040.5L783.9 1039.5L784.2 1038.4L784.4 1037.4L784.7 1036.4L784.9 1035.5L785.1 1034.6L785.3 1033.8L785.5 1033.1L785.6 1032.4L785.8 1031.8L785.9 1031.2L786.1 1030.5L786.2 1029.9L786.3 1029.2L786.5 1028.4L786.6 1027.6L786.7 1026.7L786.9 1025.6L787.0 1024.5L787.2 1023.4L787.3 1022.2L787.4 1021.0L787.6 1019.9L787.7 1018.8L787.8 1017.8L787.9 1016.9L788.0 1016.1L788.0 1015.5L788.1 1014.9L788.1 1014.3L788.2 1013.8L788.2 1013.3L788.3 1012.8L788.3 1012.2L788.3 1011.5L788.4 1010.7L788.5 1009.8L788.5 1008.7L788.6 1007.6L788.7 1006.4L788.8 1005.1L788.8 1003.9L788.9 1002.7L789.0 1001.5L789.0 1000.5L789.1 999.5L789.1 998.7L789.2 998.0L789.2 997.3L789.2 996.8L789.3 996.2L789.3 995.7L789.3 995.1L789.3 994.5L789.4 993.8L789.4 993.0L789.4 992.1L789.5 991.0L789.5 989.9L789.5 988.7L789.6 987.5L789.6 986.3L789.6 985.1L789.6 984.0L789.7 982.9L789.7 982.0L789.7 981.2L789.8 980.6L789.8 980.0L789.8 979.5L789.8 979.1L789.9 978.6L789.9 978.1L789.9 977.5L790.0 976.8L790.0 976.0L790.0 975.0L790.1 973.8L790.2 972.4L790.2 971.0L790.3 969.5L790.3 968.1L790.4 966.8L790.4 965.6L790.5 964.6L790.5 963.8" fill="none" stroke="#ff0000" stroke-width="1.65" stroke-linejoin="round" stroke-dasharray="9.262 8.366"/>
<path d="M505.2 931.9L506.1 932.4L507.1 933.0L508.4 933.7L509.8 934.5L511.4 935.4L513.1 936.3L514.8 937.2L516.6 938.2L518.4 939.1L520.2 940.0L522.0 940.9L524.0 941.8L526.1 942.7L528.2 943.6L530.3 944.5L532.5 945.5L534.7 946.4L536.8 947.3L538.9 948.2L540.9 949.1L542.8 950.0L544.7 950.8L546.6 951.6L548.4 952.5L550.2 953.3L552.0 954.1L553.8 954.9L555.6 955.6L557.4 956.4L559.2 957.2L561.0 958.0L562.9 958.7L564.7 959.4L566.6 960.1L568.4 960.9L570.2 961.6L572.1 962.3L573.9 963.0L575.8 963.7L577.6 964.5L579.4 965.3L581.3 966.1L583.1 966.8L584.9 967.6L586.8 968.4L588.6 969.2L590.4 970.1L592.2 970.9L594.1 971.7L595.9 972.5L597.7 973.3L599.5 974.1L601.3 974.9L603.2 975.8L605.0 976.6L606.8 977.4L608.6 978.2L610.5 979.1L612.4 979.9L614.3 980.8L616.3 981.7L618.3 982.6L620.4 983.6L622.5 984.5L624.6 985.5L626.7 986.4L628.8 987.4L630.9 988.3L632.8 989.2L634.7 990.0L636.5 990.8L638.2 991.6L639.9 992.3L641.6 993.0L643.2 993.7L644.7 994.4L646.3 995.1L647.9 995.7L649.4 996.4L651.0 997.1L652.6 997.8L654.1 998.5L655.7 999.2L657.2 999.8L658.7 1000.5L660.3 1001.2L661.8 1001.9L663.4 1002.6L664.9 1003.2L666.5 1003.9L668.1 1004.6L669.7 1005.3L671.4 1005.9L673.1 1006.6L674.8 1007.3L676.4 1007.9L678.1 1008.6L679.7 1009.3L681.3 1009.9L682.9 1010.6L684.4 1011.3L685.9 1011.9L687.4 1012.5L688.8 1013.2L690.3 1013.8L691.7 1014.4L693.2 1015.1L694.6 1015.7L696.1 1016.4L697.6 1017.0L699.1 1017.7L700.7 1018.3L702.2 1019.0L703.8 1019.7L705.0 1020.2" fill="none" stroke="#ff0000" stroke-width="1.65" stroke-linejoin="round" stroke-dasharray="9.049 8.173"/>
<path d="M705.0 1020.0L705.6 1020.3L707.1 1021.0L708.7 1021.6L710.2 1022.3L711.8 1023.0L713.4 1023.6L715.0 1024.2L716.7 1024.8L718.4 1025.4L720.0 1025.9L721.7 1026.5L723.4 1027.0L725.1 1027.6L726.8 1028.1L728.4 1028.7L730.1 1029.3L731.8 1029.9L733.5 1030.6L735.3 1031.3L737.1 1032.0L738.8 1032.6L740.6 1033.3L742.2 1034.0L743.8 1034.6L745.2 1035.2L746.5 1035.8L747.6 1036.3L748.7 1036.8L749.6 1037.2L750.4 1037.7L751.1 1038.1L751.8 1038.4L752.5 1038.8L753.2 1039.2L753.9 1039.6L754.6 1040.0L755.4 1040.4L756.1 1040.8L756.9 1041.2L757.7 1041.6L758.4 1042.1L759.1 1042.5L759.9 1042.9L760.6 1043.3L761.2 1043.7L761.9 1044.1L762.5 1044.5L763.2 1044.9L763.8 1045.3L764.3 1045.8L764.9 1046.2L765.5 1046.6L766.0 1047.0L766.5 1047.4L767.0 1047.8L767.5 1048.2L768.0 1048.6L768.4 1049.0L768.8 1049.4L769.2 1049.7L769.5 1050.1L769.9 1050.5L770.3 1050.8L770.6 1051.2L771.0 1051.5L771.4 1051.8L771.8 1052.1L772.2 1052.4L772.7 1052.7L773.1 1052.9L773.6 1053.2L774.0 1053.4L774.4 1053.6L774.9 1053.8L775.2 1053.9L775.6 1054.0L775.9 1054.0L776.2 1054.0L776.5 1054.0L776.8 1053.9L777.1 1053.8L777.3 1053.7L777.5 1053.6L777.8 1053.5L778.0 1053.3L778.2 1053.2L778.4 1053.1L778.6 1053.0L778.7 1052.9L778.9 1052.8L779.0 1052.7L779.1 1052.6L779.3 1052.4L779.4 1052.2L779.6 1051.9L779.8 1051.5L780.0 1051.0L780.3 1050.5L780.6 1049.9L780.8 1049.2L781.1 1048.5L781.4 1047.7L781.7 1046.9L782.0 1046.1L782.3 1045.2L782.6 1044.4L782.9 1043.5L783.1 1042.6L783.4 1041.6L783.7 1040.5L783.9 1039.5L784.2 1038.4L784.4 1037.4L784.7 1036.4L784.9 1035.5L785.1 1034.6L785.3 1033.8L785.5 1033.1L785.6 1032.4L785.8 1031.8L785.9 1031.2L786.1 1030.5L786.2 1029.9L786.3 1029.2L786.5 1028.4L786.6 1027.6L786.7 1026.7L786.9 1025.6L787.0 1024.5L787.2 1023.4L787.3 1022.2L787.4 1021.0L787.6 1019.9L787.7 1018.8L787.8 1017.8L787.9 1016.9L788.0 1016.1L788.0 1015.5L788.1 1014.9L788.1 1014.3L788.2 1013.8L788.2 1013.3L788.3 1012.8L788.3 1012.2L788.3 1011.5L788.4 1010.7L788.5 1009.8L788.5 1008.7L788.6 1007.6L788.7 1006.4L788.8 1005.1L788.8 1003.9L788.9 1002.7L789.0 1001.5L789.0 1000.5L789.1 999.5L789.1 998.7L789.2 998.0L789.2 997.3L789.2 996.8L789.3 996.2L789.3 995.7L789.3 995.1L789.3 994.5L789.4 993.8L789.4 993.0L789.4 992.1L789.5 991.0L789.5 989.9L789.5 988.7L789.6 987.5L789.6 986.3L789.6 985.1L789.6 984.0L789.7 982.9L789.7 982.0L789.7 981.2L789.8 980.6L789.8 980.0L789.8 979.5L789.8 979.1L789.9 978.6L789.9 978.1L789.9 977.5L790.0 976.8L790.0 976.0L790.0 975.0L790.1 973.8L790.2 972.4L790.2 971.0L790.3 969.5L790.3 968.1L790.4 966.8L790.4 965.6L790.5 964.6L790.5 963.8" fill="none" stroke="#ff0000" stroke-width="1.65" stroke-linejoin="round" stroke-dasharray="9.262 8.366" stroke-dashoffset="12.142"/>
<path d="M802.0 967.5L802.1 968.3L802.2 969.3L802.4 970.6L802.6 971.9L802.7 973.4L802.9 975.0L803.2 976.6L803.4 978.2L803.6 979.8L803.9 981.3L804.2 982.8L804.5 984.4L804.8 986.1L805.1 987.8L805.4 989.4L805.8 991.1L806.1 992.8L806.5 994.4L806.9 995.9L807.3 997.3L807.7 998.6L808.1 999.9L808.5 1001.2L808.9 1002.3L809.4 1003.5L809.8 1004.6L810.3 1005.7L810.8 1006.7L811.3 1007.8L811.9 1008.8L812.5 1009.8L813.1 1010.8L813.7 1011.8L814.4 1012.8L815.1 1013.7L815.8 1014.6L816.5 1015.5L817.2 1016.3L818.0 1017.2L818.8 1018.0L819.6 1018.8L820.5 1019.6L821.3 1020.3L822.2 1021.0L823.1 1021.7L824.1 1022.4L825.0 1023.0L826.0 1023.7L827.0 1024.3L828.0 1024.9L829.1 1025.5L830.1 1026.1L831.3 1026.6L832.4 1027.2L833.6 1027.7L834.7 1028.2L835.9 1028.7L837.1 1029.2L838.2 1029.7L839.4 1030.1L840.5 1030.5L841.7 1030.9L842.8 1031.3L843.9 1031.6L845.1 1032.0L846.2 1032.3L847.4 1032.6L848.5 1032.9L849.7 1033.1L850.9 1033.4L852.2 1033.6L853.6 1033.9L855.0 1034.1L856.5 1034.3L857.9 1034.5L859.3 1034.7L860.6 1034.8L861.8 1035.0L862.7 1035.1L863.5 1035.2" fill="none" stroke="#ff0000" stroke-width="1.65" stroke-linejoin="round" stroke-dasharray="9.30 8.40"/>
<text x="10.60" y="589.70" font-size="22.50" letter-spacing="-0.70">1.15</text>
<text x="20.23" y="710.94" font-size="22.50" letter-spacing="-0.70">1.1</text>
<text x="10.60" y="832.18" font-size="22.50" letter-spacing="-0.70">1.05</text>
<text x="35.70" y="953.41" font-size="22.50" letter-spacing="-0.70">1</text>
<text x="10.60" y="1074.65" font-size="22.50" letter-spacing="-0.70">0.95</text>
<text x="455.68" y="589.70" font-size="22.50" letter-spacing="-0.70">0.08</text>
<text x="455.50" y="710.94" font-size="22.50" letter-spacing="-0.70">0.06</text>
<text x="455.18" y="832.18" font-size="22.50" letter-spacing="-0.70">0.04</text>
<text x="456.07" y="953.41" font-size="22.50" letter-spacing="-0.70">0.02</text>
<text x="481.71" y="1074.65" font-size="22.50" letter-spacing="-0.70">0</text>
<text x="43.58" y="1102.90" font-size="23.00" letter-spacing="-1.70">10</text>
<text x="69.47" y="1088.90" font-size="17.00" letter-spacing="-0.30">-5</text>
<text x="116.34" y="1102.90" font-size="23.00" letter-spacing="-1.70">10</text>
<text x="142.23" y="1088.90" font-size="17.00" letter-spacing="-0.30">-4</text>
<text x="189.10" y="1102.90" font-size="23.00" letter-spacing="-1.70">10</text>
<text x="214.99" y="1088.90" font-size="17.00" letter-spacing="-0.30">-3</text>
<text x="261.86" y="1102.90" font-size="23.00" letter-spacing="-1.70">10</text>
<text x="287.75" y="1088.90" font-size="17.00" letter-spacing="-0.30">-2</text>
<text x="334.62" y="1102.90" font-size="23.00" letter-spacing="-1.70">10</text>
<text x="360.51" y="1088.90" font-size="17.00" letter-spacing="-0.30">-1</text>
<text x="418.58" y="1102.90" font-size="23.00">1</text>
<text x="488.18" y="1102.90" font-size="23.00" letter-spacing="-1.70">10</text>
<text x="514.07" y="1088.90" font-size="17.00" letter-spacing="-0.30">-5</text>
<text x="560.96" y="1102.90" font-size="23.00" letter-spacing="-1.70">10</text>
<text x="586.85" y="1088.90" font-size="17.00" letter-spacing="-0.30">-4</text>
<text x="633.74" y="1102.90" font-size="23.00" letter-spacing="-1.70">10</text>
<text x="659.63" y="1088.90" font-size="17.00" letter-spacing="-0.30">-3</text>
<text x="706.52" y="1102.90" font-size="23.00" letter-spacing="-1.70">10</text>
<text x="732.41" y="1088.90" font-size="17.00" letter-spacing="-0.30">-2</text>
<text x="779.30" y="1102.90" font-size="23.00" letter-spacing="-1.70">10</text>
<text x="805.19" y="1088.90" font-size="17.00" letter-spacing="-0.30">-1</text>
<text x="863.28" y="1102.90" font-size="23.00">1</text>
<text x="235.34" y="1120.60" font-size="29.70">x</text>
<text x="679.99" y="1120.60" font-size="29.70">x</text>
<path d="M96.8 989.9H141.2" stroke="#0000ff" stroke-width="1.90" fill="none"/>
<path d="M96.8 1021.0H141.4M96.8 1026.2H141.4" stroke="#ff0000" stroke-width="1.90" fill="none" stroke-dasharray="9.2 8.5"/>
<text x="151.54" y="997.00" font-size="23.00">N</text>
<text x="168.11" y="985.20" font-size="15.80">2</text>
<text x="176.04" y="997.00" font-size="23.00">LO</text>
<text x="211.40" y="997.00" font-size="23.00">/</text>
<text x="221.84" y="997.00" font-size="23.00">NLO</text>
<text x="151.54" y="1031.40" font-size="23.00">N</text>
<text x="168.24" y="1019.80" font-size="15.80">3</text>
<text x="176.04" y="1031.40" font-size="23.00">LO</text>
<text x="207.54" y="1039.70" font-size="16.00">A,B</text>
<text x="238.00" y="1031.40" font-size="23.00">/</text>
<text x="248.54" y="1031.40" font-size="23.00">N</text>
<text x="266.11" y="1019.60" font-size="15.80">2</text>
<text x="273.54" y="1031.40" font-size="23.00">LO</text>
<path d="M679.8 713.8H723.9" stroke="#0000ff" stroke-width="1.90" fill="none"/>
<path d="M679.8 749.5H724.1M679.8 755.6H724.1" stroke="#ff0000" stroke-width="1.90" fill="none" stroke-dasharray="9.2 8.5"/>
<text x="737.20" y="721.70" font-size="24.30">N</text>
<text x="755.38" y="709.30" font-size="16.30">2</text>
<text x="764.30" y="721.70" font-size="24.30">LO</text>
<text x="737.20" y="760.80" font-size="24.30">N</text>
<text x="755.82" y="748.60" font-size="16.30">3</text>
<text x="764.30" y="760.80" font-size="24.30">LO</text>
<text x="797.24" y="768.40" font-size="16.30">A,B</text>
<text x="151.13" y="660.30" font-size="29.70">q</text>
<text x="166.01" y="670.20" font-size="20.80">S</text>
<path d="M186.90 649.80H202.50M186.90 655.90H202.50" stroke="#000" stroke-width="2.00" fill="none"/>
<text x="210.73" y="660.30" font-size="29.70">d</text>
<text x="232.41" y="660.30" font-size="29.70">ln</text>
<text x="260.63" y="660.30" font-size="29.70">q</text>
<text x="275.81" y="669.80" font-size="20.80">S</text>
<text x="295.10" y="660.30" font-size="29.70">/</text>
<text x="309.33" y="660.30" font-size="29.70">d</text>
<text x="331.11" y="660.30" font-size="29.70">ln</text>
<text transform="translate(357.48 660.40) scale(1.200 1)" font-size="31.00" style="stroke-width:0.08px">μ</text>
<text x="377.05" y="670.90" font-size="21.00">f</text>
<text x="377.86" y="649.70" font-size="21.50">2</text>
<circle cx="159.2" cy="638.2" r="1.45" fill="#000"/>
<text transform="translate(240.61 702.70) scale(1.170 1)" font-size="30.50" style="stroke-width:0.08px">μ</text>
<text x="258.41" y="712.50" font-size="19.50">r</text>
<path d="M272.10 693.20H286.30M272.10 698.90H286.30" stroke="#000" stroke-width="2.00" fill="none"/>
<text transform="translate(292.11 702.70) scale(1.170 1)" font-size="30.50" style="stroke-width:0.08px">μ</text>
<text x="309.30" y="712.50" font-size="19.50">f</text>
<text x="693.72" y="660.20" font-size="31.00">Δ</text>
<text transform="translate(711.69 670.20) scale(1.250 1)" font-size="19.80" style="stroke-width:0.08px">μ</text>
<text x="724.76" y="675.40" font-size="22.00">r</text>
<text x="732.53" y="660.20" font-size="29.70">q</text>
<text x="747.86" y="670.80" font-size="21.50">S</text>
<circle cx="740.5" cy="638.2" r="1.45" fill="#000"/>
</svg>
</body></html>
